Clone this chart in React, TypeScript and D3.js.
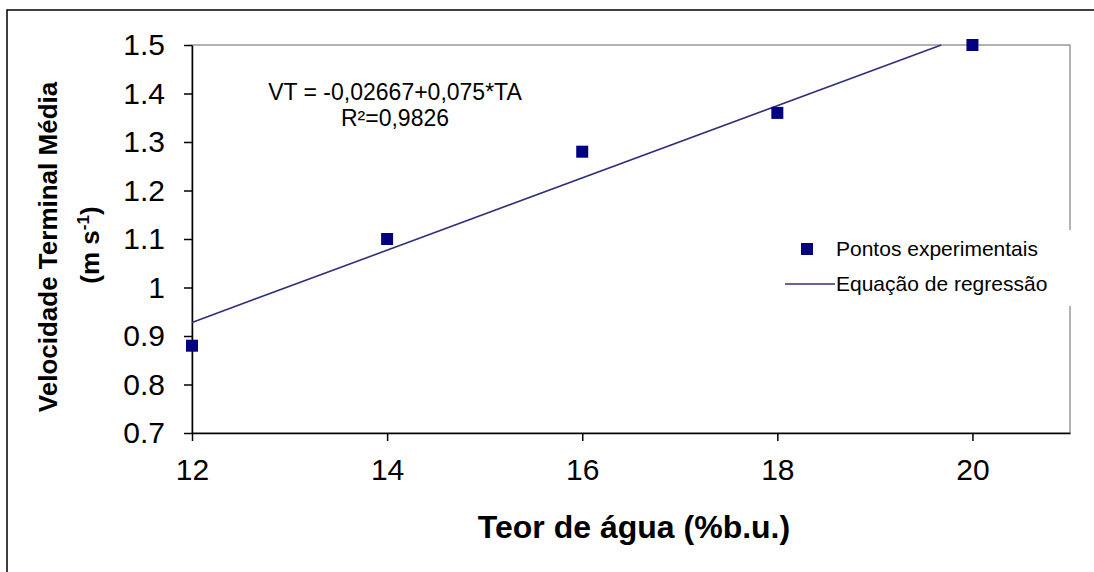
import { useEffect, useRef } from "react";
import * as d3 from "d3";

// Experimental points
const teorAgua = [12, 14, 16, 18, 20];
const velocidade = [0.88, 1.1, 1.28, 1.36, 1.5];

// Regression line as drawn on the chart (start / end where it leaves the plot)
const regX = [12, 19.68];
const regY = [0.928, 1.5];

const xTicks = [12, 14, 16, 18, 20];
const yTicks = [0.7, 0.8, 0.9, 1, 1.1, 1.2, 1.3, 1.4, 1.5];

const W = 1094;
const H = 572;
const FONT = "Liberation Sans, Arial, sans-serif";

export default function App() {
  const svgRef = useRef<SVGSVGElement>(null);

  useEffect(() => {
    const el = svgRef.current;
    if (!el) return;
    d3.select(el).selectAll("*").remove();

    const m = { top: 45, right: 24, bottom: 139, left: 192 };
    const iw = W - m.left - m.right;
    const ih = H - m.top - m.bottom;

    const xs = d3.scaleLinear().domain([12, 21]).range([0, iw]);
    const ys = d3.scaleLinear().domain([0.7, 1.5]).range([ih, 0]);

    const root = d3.select(el).attr("viewBox", `0 0 ${W} ${H}`);

    // outer frame (right/bottom edges fall outside the picture)
    root
      .append("rect")
      .attr("x", 7)
      .attr("y", 10)
      .attr("width", W + 20)
      .attr("height", H + 20)
      .attr("fill", "#fff")
      .attr("stroke", "#000")
      .attr("stroke-width", 1.5);

    const svg = root
      .append("g")
      .attr("transform", `translate(${m.left},${m.top})`);

    // plot border (grey)
    svg
      .append("rect")
      .attr("x", 0)
      .attr("y", 0)
      .attr("width", iw)
      .attr("height", ih)
      .attr("fill", "#fff")
      .attr("stroke", "#808080")
      .attr("stroke-width", 1.2);

    // axes
    const aStyle = (g: any) => {
      g.select(".domain").attr("stroke", "#000").attr("stroke-width", 1.5);
      g.selectAll(".tick line").attr("stroke", "#000").attr("stroke-width", 1.5);
      g.selectAll(".tick text")
        .attr("fill", "#000")
        .style("font-size", "30px")
        .style("font-family", FONT);
    };
    svg
      .append("g")
      .attr("transform", `translate(0,${ih})`)
      .call(
        d3
          .axisBottom(xs)
          .tickValues(xTicks)
          .tickSizeInner(8)
          .tickSizeOuter(0)
          .tickPadding(18)
          .tickFormat(d3.format("d")),
      )
      .call(aStyle);
    svg
      .append("g")
      .call(
        d3
          .axisLeft(ys)
          .tickValues(yTicks)
          .tickSizeInner(8)
          .tickSizeOuter(0)
          .tickPadding(19)
          .tickFormat((d: any) => (d === 1 ? "1" : d3.format(".1f")(d))),
      )
      .call(aStyle);

    // axis titles
    svg
      .append("text")
      .attr("x", 442)
      .attr("y", ih + 105)
      .attr("text-anchor", "middle")
      .style("font-family", FONT)
      .style("font-weight", "bold")
      .style("font-size", "32px")
      .text("Teor de água (%b.u.)");

    const yt = root
      .append("text")
      .attr("transform", "rotate(-90)")
      .attr("text-anchor", "middle")
      .style("font-family", FONT)
      .style("font-weight", "bold")
      .style("font-size", "26px");
    yt.append("tspan")
      .attr("x", -247)
      .attr("y", 57)
      .text("Velocidade Terminal Média");
    const l2 = yt.append("tspan").attr("x", -245).attr("y", 99);
    l2.append("tspan").text("(m s");
    l2.append("tspan").attr("dy", -10).style("font-size", "17px").text("-1");
    l2.append("tspan").attr("dy", 10).text(")");

    // regression line
    const line = d3
      .line<number>()
      .x((_, i) => xs(regX[i]))
      .y((d) => ys(d));
    svg
      .append("path")
      .datum(regY)
      .attr("fill", "none")
      .attr("stroke", "#30307a")
      .attr("stroke-width", 1.6)
      .attr("d", line);

    // points
    const S = 12;
    svg
      .selectAll(".pt")
      .data(teorAgua)
      .enter()
      .append("rect")
      .attr("x", (d) => xs(d) - S / 2)
      .attr("y", (_, i) => ys(velocidade[i]) - S / 2)
      .attr("width", S)
      .attr("height", S)
      .attr("fill", "#000080");

    // equation
    const eq = svg
      .append("text")
      .attr("text-anchor", "middle")
      .style("font-family", FONT)
      .style("font-size", "23px")
      .attr("fill", "#000");
    eq.append("tspan")
      .attr("x", 203)
      .attr("y", 55)
      .text("VT = -0,02667+0,075*TA");
    eq.append("tspan").attr("x", 203).attr("y", 81).text("R²=0,9826");

    // legend
    const lg = root.append("g");
    lg.append("rect")
      .attr("x", 770)
      .attr("y", 230)
      .attr("width", 310)
      .attr("height", 76)
      .attr("fill", "#fff");
    lg.append("rect")
      .attr("x", 801)
      .attr("y", 243)
      .attr("width", S)
      .attr("height", S)
      .attr("fill", "#000080");
    lg.append("line")
      .attr("x1", 785)
      .attr("x2", 835)
      .attr("y1", 284)
      .attr("y2", 284)
      .attr("stroke", "#30307a")
      .attr("stroke-width", 1.6);
    lg.append("text")
      .attr("x", 836)
      .attr("y", 256)
      .style("font-family", FONT)
      .style("font-size", "21px")
      .text("Pontos experimentais");
    lg.append("text")
      .attr("x", 836)
      .attr("y", 291)
      .style("font-family", FONT)
      .style("font-size", "21px")
      .text("Equação de regressão");
  }, []);

  return (
    <svg
      ref={svgRef}
      width={W}
      height={H}
      style={{ position: "absolute", left: 0, top: 0, background: "#fff" }}
    />
  );
}
